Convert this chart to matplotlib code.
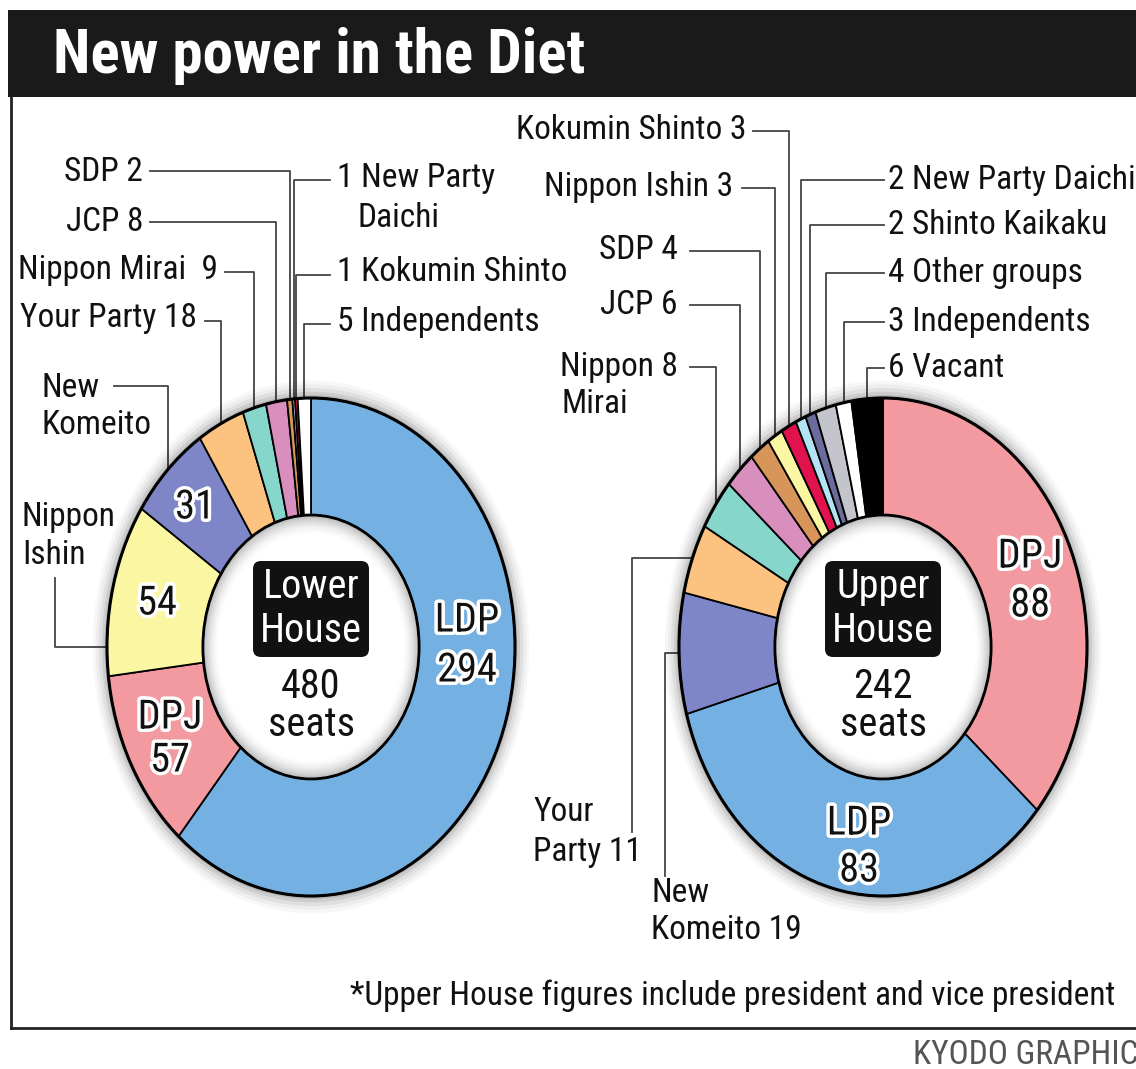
import numpy as np
import matplotlib.pyplot as plt
from matplotlib import font_manager
from matplotlib.patches import Circle, Wedge, FancyBboxPatch, Rectangle
import matplotlib.patheffects as pe

# pick a narrow sans face if one is installed, otherwise shrink Liberation Sans
ttf = font_manager.fontManager.ttflist
narrow_family, narrow_stretch = None, 'normal'
for want in ['Liberation Sans Narrow', 'Arial Narrow', 'Roboto Condensed', 'Noto Sans Condensed']:
    if any(f.name == want for f in ttf):
        narrow_family = want
        break
if narrow_family is None:
    for f in ttf:
        if f.name in ('Noto Sans', 'Roboto', 'Open Sans') and f.stretch in ('condensed', 'semi-condensed'):
            narrow_family, narrow_stretch = f.name, f.stretch
            break
if narrow_family:
    plt.rcParams['font.family'] = [narrow_family, 'Liberation Sans', 'DejaVu Sans']
    plt.rcParams['font.stretch'] = narrow_stretch
    K = 1.0
else:
    plt.rcParams['font.family'] = ['Liberation Sans', 'DejaVu Sans']
    K = 0.84

# seats, clockwise from 12 o'clock
lower_parties = ['LDP', 'DPJ', 'Nippon Ishin', 'New Komeito', 'Your Party', 'Nippon Mirai',
                 'JCP', 'SDP', 'New Party Daichi', 'Kokumin Shinto', 'Independents']
lower_seats = [294, 57, 54, 31, 18, 9, 8, 2, 1, 1, 5]

upper_parties = ['DPJ', 'LDP', 'New Komeito', 'Your Party', 'Nippon Mirai', 'JCP', 'SDP',
                 'Nippon Ishin', 'Kokumin Shinto', 'New Party Daichi', 'Shinto Kaikaku',
                 'Other groups', 'Independents', 'Vacant']
upper_seats = [88, 83, 19, 11, 8, 6, 4, 3, 3, 2, 2, 4, 3, 6]

colors = {
    'LDP': '#74b1e2', 'DPJ': '#f29aa0', 'Nippon Ishin': '#fbf6a2', 'New Komeito': '#7f86c8',
    'Your Party': '#fcc27f', 'Nippon Mirai': '#86d6cc', 'JCP': '#d98fbd', 'SDP': '#d8955a',
    'Kokumin Shinto': '#e0134f', 'New Party Daichi': '#b3e3f5', 'Shinto Kaikaku': '#6c6c9c',
    'Other groups': '#c4c4cc', 'Independents': 'white', 'Vacant': 'black',
}

W, H = 1136, 1069
RX, RY = 204, 249     # donut radii in pixels (picture is stretched vertically)
HOLE = 0.53
LOW_C = (311, 647)
UP_C = (883, 647)
LABEL_FS = 24 * K
BIG_FS = 29 * K
LINE_C = '#444444'

fig = plt.figure(figsize=(W / 100, H / 100), dpi=100)

# background layer: title bar, frame, leader lines, outside labels
bg = fig.add_axes([0, 0, 1, 1], zorder=0)
bg.set_xlim(0, W)
bg.set_ylim(H, 0)
bg.axis('off')

bg.add_patch(Rectangle((8, 10), W, 87, fc='#1a1a1a', ec='none'))
bg.text(53, 56, 'New power in the Diet', color='white', fontsize=44 * K, fontweight='bold',
        va='center', ha='left')
bg.plot([11, 11], [97, 1028], color='#222222', lw=2)
bg.plot([11, W], [1028, 1028], color='#222222', lw=2)
bg.text(350, 996, '*Upper House figures include president and vice president',
        fontsize=24 * K, va='center', ha='left', color='#111111')
bg.text(913, 1055, 'KYODO GRAPHIC', fontsize=24 * K, va='center', ha='left', color='#555555')


def mid_angle(seats, i):
    return (sum(seats[:i]) + seats[i] / 2) / sum(seats) * 360


def edge(c, ang):
    a = np.radians(ang)
    return c[0] + RX * np.sin(a), c[1] - RY * np.cos(a)


def leader_down(c, seats, i, x0, y0):
    # horizontal from label, then straight down to the ring
    xt, yt = edge(c, mid_angle(seats, i))
    bg.plot([x0, xt, xt], [y0, y0, yt], color=LINE_C, lw=1.3, zorder=1)


def leader_side(c, ang, x0, y0):
    # vertical from label, then horizontal to the ring
    xt, yt = edge(c, ang)
    bg.plot([x0, x0, xt], [y0, yt, yt], color=LINE_C, lw=1.3, zorder=1)


def txt(x, y, s, ha='left', **kw):
    bg.text(x, y, s, fontsize=LABEL_FS, va='center', ha=ha, color='#111111', **kw)


# ---- Lower House leaders
ls = lower_seats
txt(143, 172, f'SDP {ls[7]}', ha='right'); leader_down(LOW_C, ls, 7, 150, 171)
txt(143, 222, f'JCP {ls[6]}', ha='right'); leader_down(LOW_C, ls, 6, 150, 222)
txt(218, 270, f'Nippon Mirai  {ls[5]}', ha='right'); leader_down(LOW_C, ls, 5, 225, 272)
txt(197, 318, f'Your Party {ls[4]}', ha='right'); leader_down(LOW_C, ls, 4, 205, 321)
txt(42, 388, 'New'); txt(42, 425, 'Komeito'); leader_down(LOW_C, ls, 3, 114, 386)
txt(22, 517, 'Nippon'); txt(22, 555, 'Ishin'); leader_side(LOW_C, 270, 55, 578)
txt(337, 178, f'{ls[8]} New Party'); txt(357, 218, 'Daichi'); leader_down(LOW_C, ls, 8, 330, 180)
txt(337, 272, f'{ls[9]} Kokumin Shinto'); leader_down(LOW_C, ls, 9, 330, 275)
txt(337, 322, f'{ls[10]} Independents'); leader_down(LOW_C, ls, 10, 330, 324)

# ---- Upper House leaders
us = upper_seats
txt(746, 130, f'Kokumin Shinto {us[8]}', ha='right'); leader_down(UP_C, us, 8, 753, 131)
txt(733, 187, f'Nippon Ishin {us[7]}', ha='right'); leader_down(UP_C, us, 7, 742, 188)
txt(678, 250, f'SDP {us[6]}', ha='right'); leader_down(UP_C, us, 6, 690, 251)
txt(678, 305, f'JCP {us[5]}', ha='right'); leader_down(UP_C, us, 5, 690, 305)
txt(678, 367, f'Nippon {us[4]}', ha='right'); txt(562, 404, 'Mirai')
leader_down(UP_C, us, 4, 690, 367)
for i, y in zip([9, 10, 11, 12, 13], [180, 225, 273, 322, 368]):
    txt(888, y, f'{us[i]} {upper_parties[i]}')
    leader_down(UP_C, us, i, 884, y)
txt(533, 812, 'Your'); txt(533, 852, f'Party {us[3]}')
leader_side(UP_C, mid_angle(us, 3), 632, 832)
txt(651, 893, 'New'); txt(651, 930, f'Komeito {us[2]}')
leader_side(UP_C, mid_angle(us, 2), 665, 876)


def donut(c, parties, seats):
    pad = 1.12
    ax = fig.add_axes([(c[0] - RX * pad) / W, 1 - (c[1] + RY * pad) / H,
                       2 * RX * pad / W, 2 * RY * pad / H], zorder=1)
    for r, a in [(1.07, 0.03), (1.055, 0.04), (1.04, 0.06), (1.025, 0.08), (1.012, 0.1)]:
        ax.add_patch(Circle((0, 0), r, fc='black', alpha=a, lw=0, zorder=0))
    ax.pie(seats, colors=[colors[p] for p in parties], startangle=90, counterclock=False,
           radius=1, wedgeprops=dict(width=1 - HOLE, edgecolor='black', linewidth=1.3))
    ax.set_xlim(-pad, pad)
    ax.set_ylim(-pad, pad)
    ax.set_aspect('auto')
    ax.axis('off')
    ax.add_patch(Circle((0, 0), 1, fill=False, ec='black', lw=2.2, zorder=5))
    ax.add_patch(Circle((0, 0), HOLE, fc='white', ec='none', zorder=3))
    n, step = 14, 0.006
    for k in range(n):
        ax.add_patch(Wedge((0, 0), HOLE - k * step, 0, 360, width=step, fc='black',
                           alpha=0.28 * (1 - k / n) ** 2, lw=0, zorder=4))
    ax.add_patch(Circle((0, 0), HOLE, fill=False, ec='black', lw=2, zorder=5))


donut(LOW_C, lower_parties, lower_seats)
donut(UP_C, upper_parties, upper_seats)

# top layer: labels inside the rings and center boxes
top = fig.add_axes([0, 0, 1, 1], zorder=2)
top.set_xlim(0, W)
top.set_ylim(H, 0)
top.axis('off')
halo = [pe.withStroke(linewidth=5, foreground='white')]


def ring_label(x, y, s):
    top.text(x, y, s, fontsize=BIG_FS, ha='center', va='center', color='#111111', path_effects=halo)


ring_label(467, 620, 'LDP'); ring_label(467, 670, f'{ls[0]}')
ring_label(170, 717, 'DPJ'); ring_label(170, 760, f'{ls[1]}')
ring_label(157, 603, f'{ls[2]}')
ring_label(195, 507, f'{ls[3]}')
ring_label(1030, 556, 'DPJ'); ring_label(1030, 605, f'{us[0]}')
ring_label(859, 823, 'LDP'); ring_label(859, 870, f'{us[1]}')


def center_box(cx, title, total):
    top.add_patch(FancyBboxPatch((cx - 54, 565), 108, 88, boxstyle='round,pad=4,rounding_size=8',
                                 fc='#111111', ec='none'))
    top.text(cx, 587, title, fontsize=BIG_FS, color='white', ha='center', va='center')
    top.text(cx, 630, 'House', fontsize=BIG_FS, color='white', ha='center', va='center')
    top.text(cx, 686, f'{total}', fontsize=BIG_FS, color='#111111', ha='center', va='center')
    top.text(cx, 724, 'seats', fontsize=BIG_FS, color='#111111', ha='center', va='center')


center_box(LOW_C[0], 'Lower', sum(lower_seats))
center_box(UP_C[0], 'Upper', sum(upper_seats))

fig.savefig('out.png', dpi=100)
